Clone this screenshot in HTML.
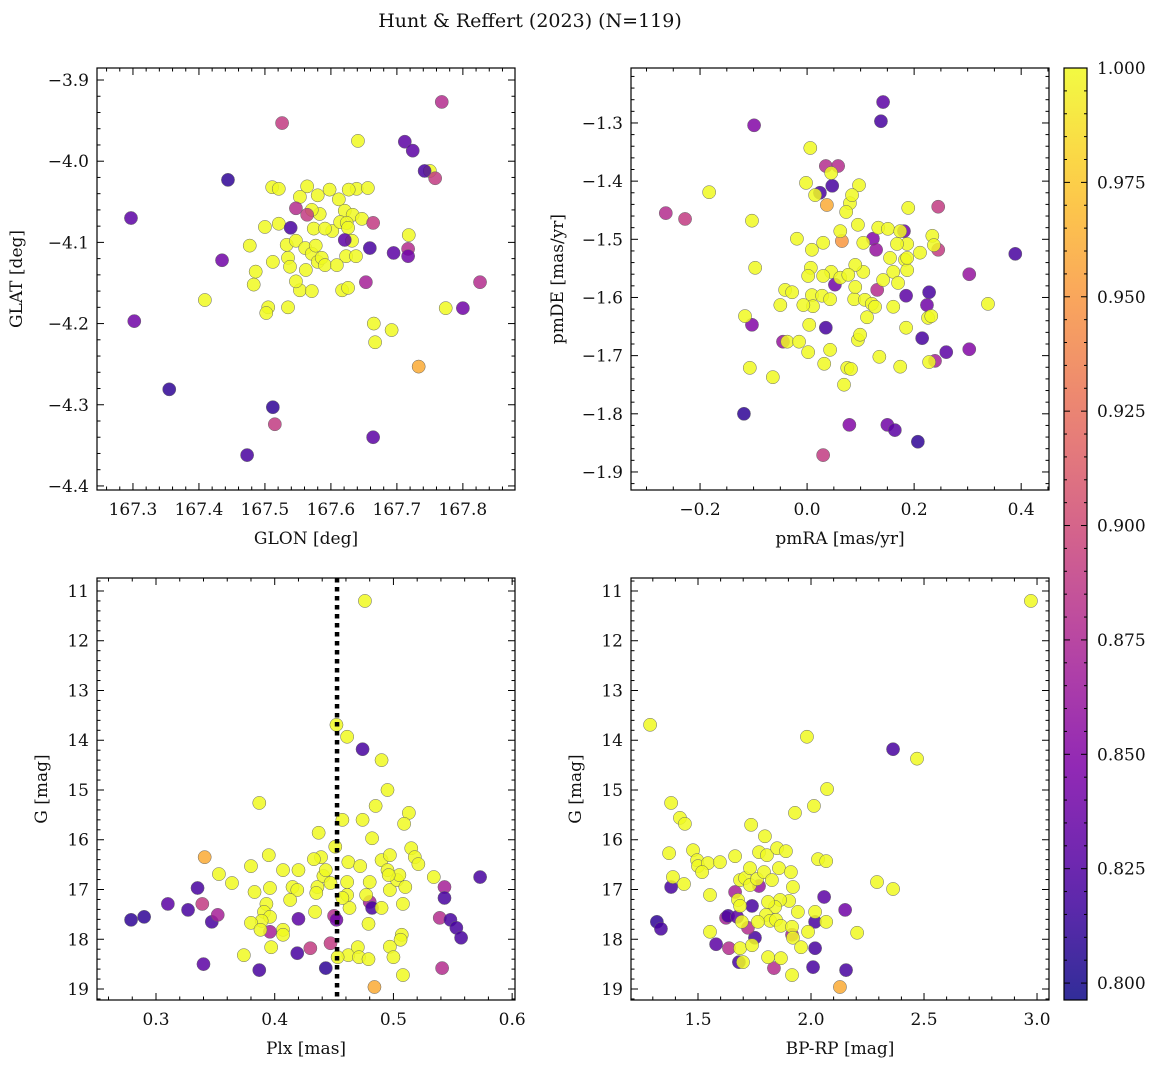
<!DOCTYPE html>
<html><head><meta charset="utf-8">
<style>
html,body{margin:0;padding:0;background:#fff;}
svg{display:block;font-family:"DejaVu Serif","Liberation Serif",serif;}
</style></head>
<body>
<svg id="chart" width="1161" height="1067" viewBox="0 0 1161 1067" xmlns="http://www.w3.org/2000/svg">
<text x="530" y="27" text-anchor="middle" font-size="19" fill="#111">Hunt &amp; Reffert (2023) (N=119)</text>
</svg>
<script>
// Panel 1: GLON / GLAT / color
const p1Glon = [167.511,167.521,167.564,167.553,167.580,167.598,167.612,167.639,167.627,167.656,167.641,167.621,167.633,167.647,167.500,167.477,167.486,167.483,167.505,167.502,167.535,167.553,167.571,167.533,167.535,167.547,167.561,167.571,167.577,167.580,167.586,167.591,167.562,167.538,167.602,167.614,167.624,167.632,167.623,167.638,167.617,167.626,167.609,167.583,167.571,167.574,167.512,167.521,167.547,167.591,167.626,167.665,167.667,167.692,167.718,167.774,167.409,167.750,
167.768,167.526,167.712,167.724,167.742,167.758,167.444,167.297,167.302,167.355,167.512,167.515,167.473,167.664,167.733,167.826,167.800,167.664,167.717,167.717,167.659,167.653,167.621,167.547,167.539,167.435,167.564,167.695];
const p1Glat = [-4.032,-4.034,-4.031,-4.044,-4.042,-4.035,-4.047,-4.034,-4.035,-4.033,-3.975,-4.061,-4.066,-4.071,-4.081,-4.104,-4.136,-4.152,-4.180,-4.187,-4.180,-4.159,-4.160,-4.103,-4.119,-4.098,-4.107,-4.114,-4.104,-4.124,-4.119,-4.128,-4.134,-4.130,-4.086,-4.075,-4.076,-4.098,-4.117,-4.117,-4.159,-4.156,-4.128,-4.065,-4.060,-4.083,-4.124,-4.077,-4.148,-4.083,-4.082,-4.200,-4.223,-4.208,-4.091,-4.181,-4.171,-4.012,
-3.927,-3.953,-3.976,-3.987,-4.012,-4.021,-4.023,-4.070,-4.197,-4.281,-4.303,-4.324,-4.362,-4.340,-4.253,-4.149,-4.181,-4.076,-4.108,-4.117,-4.107,-4.149,-4.097,-4.058,-4.082,-4.122,-4.066,-4.113];
const p1Prob = [1,1,1,1,1,1,1,1,1,1,1,1,1,1,1,1,1,1,1,1,1,1,1,1,1,1,1,1,1,1,1,1,1,1,1,1,1,1,1,1,1,1,1,1,1,1,1,1,1,1,1,1,1,1,1,1,1,1,
0.88,0.89,0.83,0.83,0.82,0.89,0.81,0.83,0.84,0.81,0.81,0.89,0.82,0.83,0.96,0.88,0.84,0.89,0.88,0.84,0.82,0.87,0.83,0.88,0.82,0.84,0.89,0.83];

// Panel 2: pmRA / pmDE / color
const p2PmRA = [0.142,0.138,-0.099,0.047,0.024,0.035,0.058,-0.264,-0.228,0.037,0.065,0.123,0.129,0.245,0.245,0.181,0.303,0.389,0.228,0.224,0.185,0.131,0.052,0.035,-0.103,-0.045,0.215,0.260,0.303,0.239,-0.118,0.079,0.150,0.164,0.207,0.030,
-0.183,-0.002,0.045,0.097,0.080,0.073,0.084,0.015,-0.103,-0.019,0.030,0.009,0.062,0.095,0.105,0.133,0.151,0.174,0.189,0.187,0.168,0.234,0.237,0.211,0.183,0.155,0.187,0.161,0.142,0.170,0.105,0.090,0.045,0.062,0.030,0.007,0.002,0.009,0.028,0.043,0.088,0.108,0.121,0.127,0.112,0.090,0.077,0.011,-0.007,-0.041,-0.028,0.004,-0.050,-0.097,-0.116,-0.037,-0.015,0.002,0.043,0.095,0.099,0.032,0.075,0.082,0.135,0.174,0.228,0.226,0.232,0.185,0.161,0.338,0.187,-0.107,-0.064,0.069,0.006];
const p2PmDE = [-1.264,-1.297,-1.304,-1.408,-1.420,-1.374,-1.374,-1.455,-1.465,-1.441,-1.503,-1.499,-1.518,-1.444,-1.518,-1.486,-1.560,-1.525,-1.591,-1.613,-1.597,-1.587,-1.578,-1.652,-1.647,-1.676,-1.670,-1.694,-1.689,-1.709,-1.800,-1.819,-1.819,-1.828,-1.848,-1.871,
-1.419,-1.403,-1.386,-1.407,-1.438,-1.453,-1.424,-1.424,-1.468,-1.499,-1.506,-1.518,-1.486,-1.475,-1.506,-1.480,-1.482,-1.486,-1.446,-1.508,-1.508,-1.494,-1.510,-1.523,-1.535,-1.532,-1.553,-1.556,-1.570,-1.575,-1.556,-1.544,-1.556,-1.566,-1.563,-1.549,-1.563,-1.596,-1.597,-1.603,-1.603,-1.604,-1.611,-1.616,-1.634,-1.582,-1.561,-1.615,-1.613,-1.587,-1.591,-1.647,-1.613,-1.549,-1.632,-1.676,-1.676,-1.694,-1.690,-1.673,-1.664,-1.714,-1.721,-1.723,-1.702,-1.719,-1.711,-1.635,-1.632,-1.652,-1.616,-1.611,-1.532,-1.721,-1.737,-1.750,-1.343];
const p2Prob = [0.83,0.82,0.85,0.82,0.82,0.88,0.88,0.88,0.89,0.96,0.95,0.85,0.86,0.89,0.89,0.84,0.86,0.82,0.82,0.84,0.83,0.88,0.84,0.82,0.85,0.86,0.82,0.83,0.85,0.87,0.81,0.85,0.84,0.83,0.81,0.89,
1,1,1,1,1,1,1,1,1,1,1,1,1,1,1,1,1,1,1,1,1,1,1,1,1,1,1,1,1,1,1,1,1,1,1,1,1,1,1,1,1,1,1,1,1,1,1,1,1,1,1,1,1,1,1,1,1,1,1,1,1,1,1,1,1,1,1,1,1,1,1,1,1,1,1,1,1,1,1];

// Panel 3: Plx / G / color
const p3Plx = [0.279,0.290,0.310,0.327,0.335,0.339,0.341,0.340,0.347,0.352,0.387,0.396,0.420,0.419,0.430,0.443,0.447,0.450,0.452,0.474,0.480,0.482,0.484,0.539,0.541,0.543,0.543,0.548,0.553,0.557,0.573,
0.476,0.452,0.461,0.490,0.495,0.387,0.485,0.513,0.509,0.437,0.457,0.474,0.515,0.451,0.439,0.433,0.395,0.380,0.353,0.364,0.407,0.420,0.415,0.419,0.413,0.396,0.383,0.393,0.391,0.396,0.389,0.380,0.388,0.397,0.374,0.407,0.407,0.436,0.435,0.434,0.441,0.443,0.447,0.461,0.461,0.463,0.462,0.457,0.472,0.480,0.477,0.497,0.490,0.495,0.497,0.503,0.505,0.496,0.508,0.510,0.518,0.521,0.507,0.506,0.497,0.500,0.508,0.490,0.479,0.462,0.470,0.471,0.479,0.453,0.534,0.482];
const p3G = [17.61,17.55,17.29,17.41,16.97,17.29,16.35,18.50,17.65,17.51,18.62,17.85,17.59,18.28,18.18,18.58,18.08,17.53,17.61,14.18,17.25,17.37,18.96,17.57,18.58,16.95,17.17,17.61,17.77,17.97,16.75,
11.20,13.69,13.93,14.40,15.00,15.26,15.32,15.46,15.68,15.86,15.60,15.60,16.17,16.14,16.35,16.39,16.31,16.53,16.69,16.87,16.61,16.61,16.95,17.01,17.21,16.97,17.05,17.29,17.45,17.55,17.63,17.67,17.81,18.16,18.32,17.81,17.91,16.95,17.07,17.45,16.73,16.61,16.87,16.85,17.11,17.37,16.45,17.17,16.53,16.85,17.11,17.01,16.41,16.61,16.31,16.81,16.71,16.71,17.29,16.95,16.35,16.49,17.91,18.01,18.15,18.36,18.72,17.37,17.69,18.32,18.16,18.36,18.40,18.36,16.75,15.97];
const p3Prob = [0.81,0.81,0.83,0.82,0.82,0.89,0.96,0.83,0.82,0.87,0.82,0.87,0.83,0.82,0.89,0.81,0.89,0.88,0.84,0.82,0.87,0.82,0.96,0.88,0.88,0.87,0.82,0.82,0.82,0.82,0.82,
1,1,1,1,1,1,1,1,1,1,1,1,1,1,1,1,1,1,1,1,1,1,1,1,1,1,1,1,1,1,1,1,1,1,1,1,1,1,1,1,1,1,1,1,1,1,1,1,1,1,1,1,1,1,1,1,1,1,1,1,1,1,1,1,1,1,1,1,1,1,1,1,1,1,1,1];
const plxCut = [0.4525];

// Panel 4: BP-RP / G / color
const p4Color = [2.363,1.318,1.336,1.381,1.580,1.637,1.624,1.633,1.664,1.673,1.681,1.739,1.752,1.721,1.836,2.018,2.009,2.018,2.058,2.151,2.155,2.128,1.916,1.770,
2.973,1.288,1.982,2.469,2.071,1.381,2.013,1.929,1.420,1.442,1.735,1.796,1.372,1.478,1.496,1.500,1.544,1.597,1.664,1.770,1.805,1.850,1.889,2.031,1.389,1.438,1.518,1.553,1.686,1.708,1.730,1.730,1.761,1.792,1.827,1.858,1.911,1.920,1.903,1.863,1.841,1.810,1.801,1.677,1.686,1.694,1.819,1.845,1.867,1.942,1.916,1.920,1.956,1.987,1.867,1.916,1.810,1.699,1.686,1.765,1.553,2.018,2.067,2.204,2.292,2.363,2.067,1.739];
const p4G = [14.18,17.65,17.79,16.95,18.10,18.18,17.57,17.53,17.05,17.55,18.46,17.33,17.97,17.77,18.58,18.18,18.56,17.65,17.15,17.41,18.62,18.96,17.91,16.93,
11.20,13.69,13.93,14.37,14.98,15.26,15.32,15.46,15.56,15.68,15.70,15.93,16.27,16.21,16.41,16.53,16.47,16.45,16.33,16.25,16.31,16.17,16.23,16.39,16.75,16.89,16.65,17.11,16.81,16.77,16.57,16.91,16.79,16.65,16.81,16.57,16.65,16.95,17.23,17.21,17.35,17.25,17.51,17.21,17.33,17.65,17.63,17.61,17.73,17.45,17.75,17.97,18.16,17.85,18.38,18.72,18.36,18.46,18.18,17.65,17.85,17.45,17.65,17.87,16.85,16.99,16.43,18.12];
const p4Prob = [0.82,0.81,0.82,0.82,0.83,0.88,0.87,0.82,0.87,0.83,0.82,0.82,0.82,0.88,0.88,0.82,0.82,0.82,0.83,0.84,0.82,0.96,0.87,0.86,
1,1,1,1,1,1,1,1,1,1,1,1,1,1,1,1,1,1,1,1,1,1,1,1,1,1,1,1,1,1,1,1,1,1,1,1,1,1,1,1,1,1,1,1,1,1,1,1,1,1,1,1,1,1,1,1,1,1,1,1,1,1,1,1,1,1,1,1];

const cbTicks = [0.800,0.825,0.850,0.875,0.900,0.925,0.950,0.975,1.000];
const cMin = 0.7963, cMax = 1.0;

const NS = "http://www.w3.org/2000/svg";
const svg = document.getElementById('chart');
function mk(tag, attrs, parent){const e=document.createElementNS(NS,tag);for(const k in attrs)e.setAttribute(k,attrs[k]);(parent||svg).appendChild(e);return e;}

const stops=[[13,8,135],[76,2,161],[126,3,168],[169,35,149],[204,71,120],[230,108,92],[248,149,64],[253,197,39],[240,249,33]];
function plasma(t){if(!isFinite(t))t=1;t=Math.max(0,Math.min(1,t));const f=t*8,i=Math.min(7,Math.floor(f)),u=f-i;const a=stops[i],b=stops[i+1];
return 'rgb('+a.map((v,k)=>Math.round(v+(b[k]-v)*u)).join(',')+')';}
function cnorm(v){return (v-cMin)/(cMax-cMin);}

function panel(o){
  const g=mk('g',{});
  
  
  const sx=v=>o.x0+(v-o.xd[0])/(o.xd[1]-o.xd[0])*(o.x1-o.x0);
  const sy=v=>o.y0+(v-o.yd[0])/(o.yd[1]-o.yd[0])*(o.y1-o.y0);
  const n=Math.min(o.xs.length,o.ys.length);
  for(let i=0;i<n;i++){
    const cv=(o.cs[i]===undefined)?1:o.cs[i];
    const c=mk('circle',{cx:sx(o.xs[i]),cy:sy(o.ys[i]),r:6.6,fill:plasma(cnorm(cv)),'fill-opacity':0.85,stroke:'#666','stroke-width':0.5},g);
    
    
  }
  if(o.vline){
    const l=mk('line',{x1:sx(o.vline),x2:sx(o.vline),y1:o.y0,y2:o.y1,stroke:'#000','stroke-width':4.5,'stroke-dasharray':'4.5,4.5'},g);
    
    
  }
  const fr=mk('rect',{x:o.x0,y:Math.min(o.y0,o.y1),width:o.x1-o.x0,height:Math.abs(o.y1-o.y0),fill:'none',stroke:'#000','stroke-width':1.2},g);
  
  
  const top=Math.min(o.y0,o.y1),bot=Math.max(o.y0,o.y1);
  const xmin=Math.min(...o.xd),xmax=Math.max(...o.xd);
  const xs0=Math.ceil(xmin/o.xmin-1e-6);
  for(let k=xs0; k*o.xmin<=xmax+1e-9; k++){
    const v=k*o.xmin;
    const X=sx(v);const major=Math.abs(v/o.xmaj-Math.round(v/o.xmaj))<1e-4;const L=major?7:3.5;
    mk('line',{x1:X,x2:X,y1:bot,y2:bot-L,stroke:'#000','stroke-width':1},g);
    mk('line',{x1:X,x2:X,y1:top,y2:top+L,stroke:'#000','stroke-width':1},g);
    if(major){const t=mk('text',{x:X,y:bot+25,'text-anchor':'middle','font-size':17,fill:'#111'},g);t.textContent=o.xfmt(v);
      }
  }
  const ymin=Math.min(...o.yd),ymax=Math.max(...o.yd);
  const ys0=Math.ceil(ymin/o.ymin-1e-6);
  for(let k=ys0; k*o.ymin<=ymax+1e-9; k++){
    const v=k*o.ymin;
    const Y=sy(v);const major=Math.abs(v/o.ymaj-Math.round(v/o.ymaj))<1e-4;const L=major?7:3.5;
    mk('line',{x1:o.x0,x2:o.x0+L,y1:Y,y2:Y,stroke:'#000','stroke-width':1},g);
    mk('line',{x1:o.x1,x2:o.x1-L,y1:Y,y2:Y,stroke:'#000','stroke-width':1},g);
    if(major){const t=mk('text',{x:o.x0-8,y:Y+6,'text-anchor':'end','font-size':17,fill:'#111'},g);t.textContent=o.yfmt(v);
      }
  }
  const xl=mk('text',{x:(o.x0+o.x1)/2,y:bot+54,'text-anchor':'middle','font-size':17,fill:'#111'},g);xl.textContent=o.xlabel;
  
  const yx=o.x0-o.ylabOff, yy=(top+bot)/2;
  const yl=mk('text',{x:yx,y:yy,'text-anchor':'middle','font-size':17,fill:'#111',transform:`rotate(-90 ${yx} ${yy})`},g);yl.textContent=o.ylabel;
  
}
const minus=s=>s.replace('-','\u2212');
const fix1=v=>{const s=(Math.abs(v)<1e-9?0:v).toFixed(1);return minus(s);};
panel({name:'glon-glat-panel',x0:97,x1:515,y0:68,y1:490,xd:[167.2455,167.879],yd:[-3.8852,-4.405],xs:p1Glon,ys:p1Glat,cs:p1Prob,
 xmaj:0.1,xmin:0.02,ymaj:0.1,ymin:0.02,xfmt:fix1,yfmt:fix1,xlabel:'GLON [deg]',ylabel:'GLAT [deg]',ylabOff:75});
panel({name:'proper-motion-panel',x0:631,x1:1049,y0:68,y1:490,xd:[-0.329,0.452],yd:[-1.2055,-1.931],xs:p2PmRA,ys:p2PmDE,cs:p2Prob,
 xmaj:0.2,xmin:0.05,ymaj:0.1,ymin:0.02,xfmt:fix1,yfmt:fix1,xlabel:'pmRA [mas/yr]',ylabel:'pmDE [mas/yr]',ylabOff:68});
panel({name:'parallax-magnitude-panel',x0:97,x1:515,y0:578,y1:1000,xd:[0.2503,0.6024],yd:[10.739,19.221],xs:p3Plx,ys:p3G,cs:p3Prob,vline:plxCut[0],
 xmaj:0.1,xmin:0.02,ymaj:1,ymin:0.2,xfmt:fix1,yfmt:v=>Math.round(v).toString(),xlabel:'Plx [mas]',ylabel:'G [mag]',ylabOff:50});
panel({name:'color-magnitude-panel',x0:631,x1:1049,y0:578,y1:1000,xd:[1.2035,3.053],yd:[10.739,19.221],xs:p4Color,ys:p4G,cs:p4Prob,
 xmaj:0.5,xmin:0.1,ymaj:1,ymin:0.2,xfmt:fix1,yfmt:v=>Math.round(v).toString(),xlabel:'BP-RP [mag]',ylabel:'G [mag]',ylabOff:50});

const cb=mk('g',{});


const defs=mk('defs',{},cb);
const lg=mk('linearGradient',{id:'cbg',x1:0,y1:1,x2:0,y2:0},defs);
for(let i=0;i<=20;i++){mk('stop',{offset:i/20,'stop-color':plasma(i/20),'stop-opacity':0.85},lg);}
const cx0=1064,cx1=1087,cy0=68,cy1=1000;
mk('rect',{x:cx0,y:cy0,width:cx1-cx0,height:cy1-cy0,fill:'url(#cbg)',stroke:'#000','stroke-width':1.2},cb);
const cy=v=>cy1-(v-cMin)/(cMax-cMin)*(cy1-cy0);
for(let k=160;k<=200;k++){
  const v=k*0.005;
  const Y=cy(v);const major=(k%5===0);const L=major?6:3;
  mk('line',{x1:cx0,x2:cx0+L,y1:Y,y2:Y,stroke:'#000','stroke-width':1},cb);
  mk('line',{x1:cx1,x2:cx1-L,y1:Y,y2:Y,stroke:'#000','stroke-width':1},cb);
}
for(const v of cbTicks){
  const t=mk('text',{x:cx1+10,y:cy(v)+6,'font-size':17,fill:'#111'},cb);t.textContent=v.toFixed(3);
  
}
</script>
</body></html>
